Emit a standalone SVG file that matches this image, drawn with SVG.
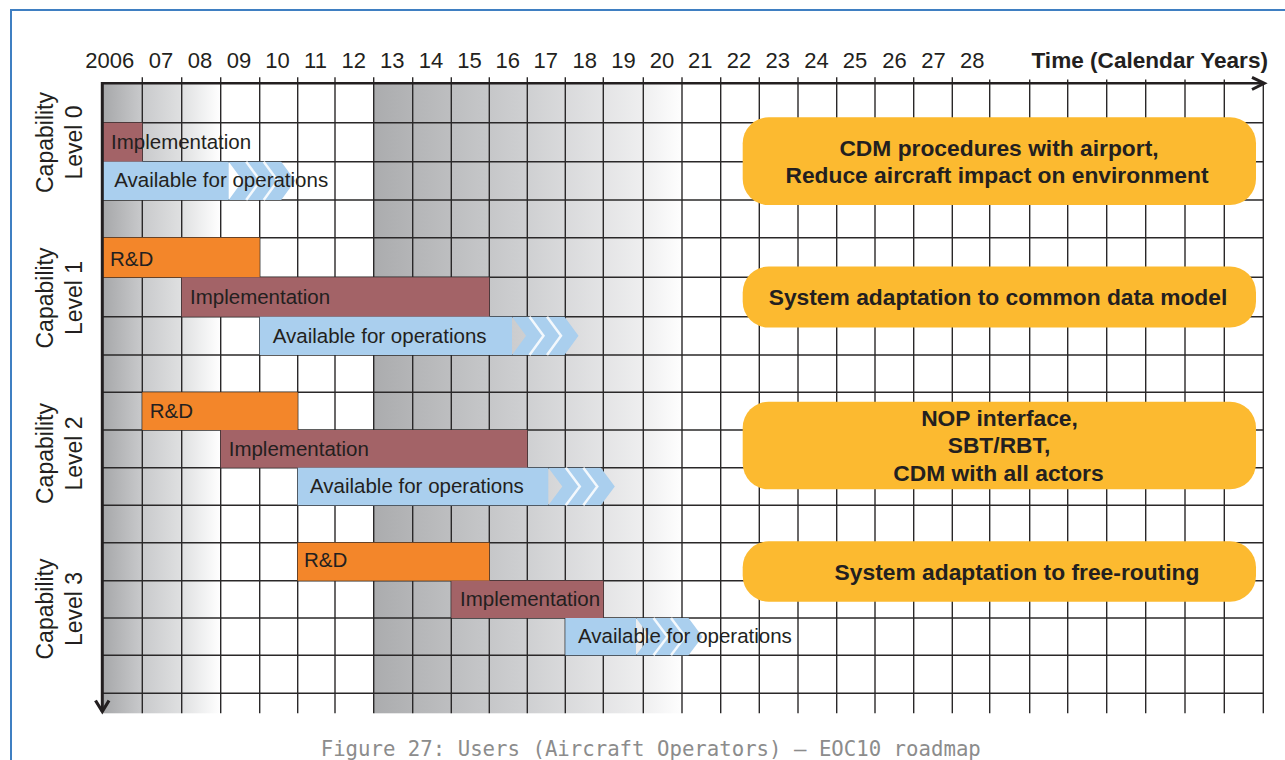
<svg xmlns="http://www.w3.org/2000/svg" width="1285" height="760" viewBox="0 0 1285 760">
<style>
.yr{font-family:"Liberation Sans",Arial,sans-serif;font-size:22px;fill:#231f20;text-anchor:middle}
.lvl{font-family:"Liberation Sans",Arial,sans-serif;font-size:23px;fill:#231f20;text-anchor:middle}
.bt{font-family:"Liberation Sans",Arial,sans-serif;font-size:20.5px;fill:#231f20}
.bx{font-family:"Liberation Sans",Arial,sans-serif;font-size:22.8px;font-weight:bold;fill:#231f20;text-anchor:middle}
.rd{fill:#f3862a}
.im{fill:#a36367}
.av{fill:#aacfee}
.gap{fill:none;stroke:#ffffff;stroke-width:2.5;stroke-opacity:0.85}
.box{fill:#fcba30}
.gv{stroke:#2a2829;stroke-width:1.4}
.gh{stroke:#2a2829;stroke-width:1.5}
</style>
<defs>
<linearGradient id="sh1" x1="0" y1="0" x2="1" y2="0">
<stop offset="0" stop-color="#a6a7a9"/>
<stop offset="0.34" stop-color="#c9cacc"/>
<stop offset="0.67" stop-color="#dfe0e1"/>
<stop offset="1" stop-color="#ffffff"/>
</linearGradient>
<linearGradient id="sh2" x1="0" y1="0" x2="1" y2="0">
<stop offset="0" stop-color="#abacae"/>
<stop offset="0.5" stop-color="#cfd0d2"/>
<stop offset="0.87" stop-color="#eeeeef"/>
<stop offset="1" stop-color="#fefefe"/>
</linearGradient>
</defs>
<rect width="1285" height="760" fill="#ffffff"/>
<g id="frame">
<path d="M11,760 V10 H1285" fill="none" stroke="#3f7fc2" stroke-width="2"/>
</g>
<g id="shading">
<rect x="102.3" y="83.3" width="118.4" height="630" fill="url(#sh1)"/>
<rect x="373.7" y="83.3" width="308.3" height="630" fill="url(#sh2)"/>
</g>
<g id="grid">
<g class="gv">
<line x1="142.3" y1="77.3" x2="142.3" y2="713.3"/><line x1="181.7" y1="77.3" x2="181.7" y2="713.3"/><line x1="220.7" y1="77.3" x2="220.7" y2="713.3"/><line x1="259.7" y1="77.3" x2="259.7" y2="713.3"/><line x1="297.7" y1="77.3" x2="297.7" y2="713.3"/><line x1="335" y1="77.3" x2="335" y2="713.3"/><line x1="373.7" y1="77.3" x2="373.7" y2="713.3"/><line x1="412.7" y1="77.3" x2="412.7" y2="713.3"/><line x1="451.3" y1="77.3" x2="451.3" y2="713.3"/><line x1="489.3" y1="77.3" x2="489.3" y2="713.3"/><line x1="527.3" y1="77.3" x2="527.3" y2="713.3"/><line x1="565.3" y1="77.3" x2="565.3" y2="713.3"/><line x1="603.3" y1="77.3" x2="603.3" y2="713.3"/><line x1="643.3" y1="77.3" x2="643.3" y2="713.3"/><line x1="682" y1="77.3" x2="682" y2="713.3"/><line x1="720.7" y1="77.3" x2="720.7" y2="713.3"/><line x1="759.3" y1="77.3" x2="759.3" y2="713.3"/><line x1="798" y1="77.3" x2="798" y2="713.3"/><line x1="836.7" y1="77.3" x2="836.7" y2="713.3"/><line x1="875" y1="77.3" x2="875" y2="713.3"/><line x1="913.7" y1="77.3" x2="913.7" y2="713.3"/><line x1="952.3" y1="77.3" x2="952.3" y2="713.3"/><line x1="989.7" y1="79.5" x2="989.7" y2="713.3"/><line x1="1029.7" y1="79.5" x2="1029.7" y2="713.3"/><line x1="1067.7" y1="79.5" x2="1067.7" y2="713.3"/><line x1="1106.7" y1="79.5" x2="1106.7" y2="713.3"/><line x1="1145.7" y1="79.5" x2="1145.7" y2="713.3"/><line x1="1185" y1="79.5" x2="1185" y2="713.3"/><line x1="1224.3" y1="79.5" x2="1224.3" y2="713.3"/><line x1="1263.3" y1="83.3" x2="1263.3" y2="713.3"/>
</g>
<g class="gh">
<line x1="102.3" y1="122.7" x2="1263.3" y2="122.7"/><line x1="102.3" y1="161.7" x2="1263.3" y2="161.7"/><line x1="102.3" y1="200" x2="1263.3" y2="200"/><line x1="102.3" y1="237.7" x2="1263.3" y2="237.7"/><line x1="102.3" y1="277.3" x2="1263.3" y2="277.3"/><line x1="102.3" y1="316.7" x2="1263.3" y2="316.7"/><line x1="102.3" y1="355" x2="1263.3" y2="355"/><line x1="102.3" y1="392.3" x2="1263.3" y2="392.3"/><line x1="102.3" y1="430" x2="1263.3" y2="430"/><line x1="102.3" y1="467.7" x2="1263.3" y2="467.7"/><line x1="102.3" y1="505.3" x2="1263.3" y2="505.3"/><line x1="102.3" y1="542.7" x2="1263.3" y2="542.7"/><line x1="102.3" y1="580.7" x2="1263.3" y2="580.7"/><line x1="102.3" y1="618" x2="1263.3" y2="618"/><line x1="102.3" y1="655.3" x2="1263.3" y2="655.3"/><line x1="102.3" y1="693.3" x2="1263.3" y2="693.3"/>
</g>
</g>
<g id="years">
<text class="yr" x="109.7" y="68.3">2006</text><text class="yr" x="161" y="68.3">07</text><text class="yr" x="200" y="68.3">08</text><text class="yr" x="239" y="68.3">09</text><text class="yr" x="277.5" y="68.3">10</text><text class="yr" x="315.5" y="68.3">11</text><text class="yr" x="353.8" y="68.3">12</text><text class="yr" x="392.3" y="68.3">13</text><text class="yr" x="431" y="68.3">14</text><text class="yr" x="469.5" y="68.3">15</text><text class="yr" x="507.8" y="68.3">16</text><text class="yr" x="545.8" y="68.3">17</text><text class="yr" x="584.8" y="68.3">18</text><text class="yr" x="623.6" y="68.3">19</text><text class="yr" x="662" y="68.3">20</text><text class="yr" x="700.2" y="68.3">21</text><text class="yr" x="739" y="68.3">22</text><text class="yr" x="777.7" y="68.3">23</text><text class="yr" x="816.5" y="68.3">24</text><text class="yr" x="855" y="68.3">25</text><text class="yr" x="894.6" y="68.3">26</text><text class="yr" x="933.6" y="68.3">27</text><text class="yr" x="972.3" y="68.3">28</text>
<text class="yr" x="1268" y="68.3" style="text-anchor:end;font-weight:bold;font-size:22.6px">Time (Calendar Years)</text>
</g>
<g id="level0">
<text class="lvl" transform="translate(53.3,142.5) rotate(-90)">Capability</text>
<text class="lvl" transform="translate(81.7,142.5) rotate(-90)">Level 0</text>
<rect class="im" x="102.3" y="122.7" width="40" height="39"/>
<rect class="av" x="102.3" y="161.7" width="126.4" height="38.3"/>
<polygon class="av" points="228.7,161.7 246.2,161.7 260.2,180.85 246.2,200 228.7,200 242.7,180.85"/>
<polygon class="av" points="246.2,161.7 263.7,161.7 277.7,180.85 263.7,200 246.2,200 260.2,180.85"/>
<polygon class="av" points="263.7,161.7 281.2,161.7 295.2,180.85 281.2,200 263.7,200 277.7,180.85"/>
<polyline class="gap" points="246.2,161.7 260.2,180.85 246.2,200"/>
<polyline class="gap" points="263.7,161.7 277.7,180.85 263.7,200"/>
<text class="bt" x="111" y="149">Implementation</text>
<text class="bt" x="114.3" y="187">Available for operations</text>
</g>
<g id="level1">
<text class="lvl" transform="translate(53.3,298) rotate(-90)">Capability</text>
<text class="lvl" transform="translate(81.7,298) rotate(-90)">Level 1</text>
<rect class="rd" x="102.3" y="237.7" width="157.4" height="39.6"/>
<rect class="im" x="181.7" y="277.3" width="307.6" height="39.4"/>
<rect class="av" x="259.7" y="316.7" width="252.3" height="38.3"/>
<polygon class="av" points="512,316.7 529.5,316.7 543.5,335.85 529.5,355 512,355 526,335.85"/>
<polygon class="av" points="529.5,316.7 547,316.7 561,335.85 547,355 529.5,355 543.5,335.85"/>
<polygon class="av" points="547,316.7 564.5,316.7 578.5,335.85 564.5,355 547,355 561,335.85"/>
<polyline class="gap" points="529.5,316.7 543.5,335.85 529.5,355"/>
<polyline class="gap" points="547,316.7 561,335.85 547,355"/>
<text class="bt" x="110" y="266">R&amp;D</text>
<text class="bt" x="190" y="304.3">Implementation</text>
<text class="bt" x="272.7" y="342.7">Available for operations</text>
</g>
<g id="level2">
<text class="lvl" transform="translate(53.3,453.5) rotate(-90)">Capability</text>
<text class="lvl" transform="translate(81.7,453.5) rotate(-90)">Level 2</text>
<rect class="rd" x="142.3" y="392.3" width="155.4" height="37.7"/>
<rect class="im" x="220.7" y="430" width="306.6" height="37.7"/>
<rect class="av" x="297.7" y="467.7" width="250.6" height="37.6"/>
<polygon class="av" points="548.3,467.7 565.8,467.7 579.8,486.5 565.8,505.3 548.3,505.3 562.3,486.5"/>
<polygon class="av" points="565.8,467.7 583.3,467.7 597.3,486.5 583.3,505.3 565.8,505.3 579.8,486.5"/>
<polygon class="av" points="583.3,467.7 600.8,467.7 614.8,486.5 600.8,505.3 583.3,505.3 597.3,486.5"/>
<polyline class="gap" points="565.8,467.7 579.8,486.5 565.8,505.3"/>
<polyline class="gap" points="583.3,467.7 597.3,486.5 583.3,505.3"/>
<text class="bt" x="149.7" y="418">R&amp;D</text>
<text class="bt" x="228.7" y="455.7">Implementation</text>
<text class="bt" x="310" y="493.3">Available for operations</text>
</g>
<g id="level3">
<text class="lvl" transform="translate(53.3,609) rotate(-90)">Capability</text>
<text class="lvl" transform="translate(81.7,609) rotate(-90)">Level 3</text>
<rect class="rd" x="297.7" y="542.7" width="191.6" height="38"/>
<rect class="im" x="451.3" y="580.7" width="152" height="37.3"/>
<rect class="av" x="565.3" y="618" width="70.7" height="37.3"/>
<polygon class="av" points="636,618 653.5,618 667.5,636.65 653.5,655.3 636,655.3 650,636.65"/>
<polygon class="av" points="653.5,618 671,618 685,636.65 671,655.3 653.5,655.3 667.5,636.65"/>
<polygon class="av" points="671,618 688.5,618 702.5,636.65 688.5,655.3 671,655.3 685,636.65"/>
<polyline class="gap" points="653.5,618 667.5,636.65 653.5,655.3"/>
<polyline class="gap" points="671,618 685,636.65 671,655.3"/>
<text class="bt" x="304" y="567">R&amp;D</text>
<text class="bt" x="460" y="606">Implementation</text>
<text class="bt" x="578" y="643.3">Available for operations</text>
</g>
<g id="connectors">
<line x1="102.3" y1="83.3" x2="1264" y2="83.3" stroke="#231f20" stroke-width="2.6"/>
<polyline points="1252,77.3 1264.3,83.3 1252,89.5" fill="none" stroke="#231f20" stroke-width="3"/>
<line x1="102.3" y1="82" x2="102.3" y2="712" stroke="#231f20" stroke-width="3"/>
<polyline points="95.5,700.5 102.3,711.5 109,700.5" fill="none" stroke="#231f20" stroke-width="3.2"/>
</g>
<g id="box0">
<rect class="box" x="742.7" y="117.3" width="513.3" height="87.7" rx="26" ry="26"/>
<text class="bx" x="999" y="155.7">CDM procedures with airport,</text>
<text class="bx" x="997" y="183.3">Reduce aircraft impact on environment</text>
</g>
<g id="box1">
<rect class="box" x="742.7" y="266.5" width="513.3" height="61" rx="26" ry="26"/>
<text class="bx" x="998" y="305">System adaptation to common data model</text>
</g>
<g id="box2">
<rect class="box" x="742.7" y="401.7" width="513.3" height="87.6" rx="26" ry="26"/>
<text class="bx" x="999.5" y="425.5">NOP interface,</text>
<text class="bx" x="999" y="453">SBT/RBT,</text>
<text class="bx" x="998.5" y="480.5">CDM with all actors</text>
</g>
<g id="box3">
<rect class="box" x="742.7" y="541.3" width="513.3" height="60.4" rx="26" ry="26"/>
<text class="bx" x="1017" y="580">System adaptation to free-routing</text>
</g>
<g id="caption">
<text x="320.7" y="756" style="font-family:'DejaVu Sans Mono','Liberation Mono',monospace;font-size:20.7px;fill:#8c8c8c">Figure 27: Users (Aircraft Operators) – EOC10 roadmap</text>
</g>
</svg>
